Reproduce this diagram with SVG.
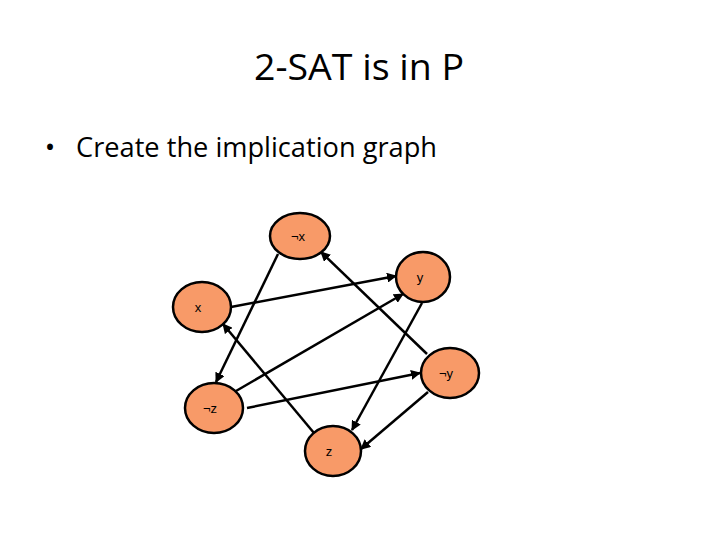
<svg xmlns="http://www.w3.org/2000/svg" width="720" height="540" viewBox="0 0 720 540">
<defs>
<style>
.node ellipse{fill:#F89A68;stroke:#000;stroke-width:2.5}
.node text{font-family:"Liberation Sans",Arial,sans-serif;font-size:13px;text-anchor:middle;fill:#000}
.edge{stroke:#000;stroke-width:2.5;fill:none;marker-end:url(#ah)}
.title{font-family:"Open Sans","Liberation Sans",sans-serif;fill:#000}
</style>
<marker id="ah" viewBox="0 0 10 10" refX="9" refY="5" markerWidth="4" markerHeight="4" orient="auto" markerUnits="strokeWidth">
<path d="M0,0 L10,5 L0,10 z" fill="#000"/>
</marker>
</defs>
<rect width="720" height="540" fill="#fff"/>
<text class="title" x="359" y="80" font-size="36" text-anchor="middle" textLength="210" lengthAdjust="spacingAndGlyphs">2-SAT is in P</text>
<text class="title" x="50" y="157" font-size="28" text-anchor="middle">•</text>
<text class="title" x="76" y="157" font-size="28" textLength="361" lengthAdjust="spacingAndGlyphs">Create the implication graph</text>
<g id="connectors">
<line class="edge" x1="278" y1="254" x2="216" y2="382"/>
<line class="edge" x1="427" y1="354" x2="321" y2="252"/>
<line class="edge" x1="231" y1="307" x2="396" y2="276"/>
<line class="edge" x1="236" y1="391" x2="403" y2="294"/>
<line class="edge" x1="422" y1="303" x2="352" y2="430"/>
<line class="edge" x1="314" y1="433" x2="223" y2="324"/>
<line class="edge" x1="247" y1="408" x2="420" y2="373"/>
<line class="edge" x1="428" y1="392" x2="361" y2="449"/>
</g>
<g id="node-notx" class="node"><ellipse cx="300" cy="236" rx="30" ry="23"/><text x="298" y="241">¬x</text></g>
<g id="node-y" class="node"><ellipse cx="423" cy="277" rx="27" ry="25"/><text x="420" y="282">y</text></g>
<g id="node-x" class="node"><ellipse cx="202" cy="307" rx="29" ry="25"/><text x="198" y="312">x</text></g>
<g id="node-noty" class="node"><ellipse cx="450" cy="373" rx="29" ry="25"/><text x="446" y="378">¬y</text></g>
<g id="node-notz" class="node"><ellipse cx="214" cy="408" rx="29" ry="25"/><text x="210" y="413">¬z</text></g>
<g id="node-z" class="node"><ellipse cx="333" cy="451" rx="28" ry="25"/><text x="329" y="456">z</text></g>
</svg>
